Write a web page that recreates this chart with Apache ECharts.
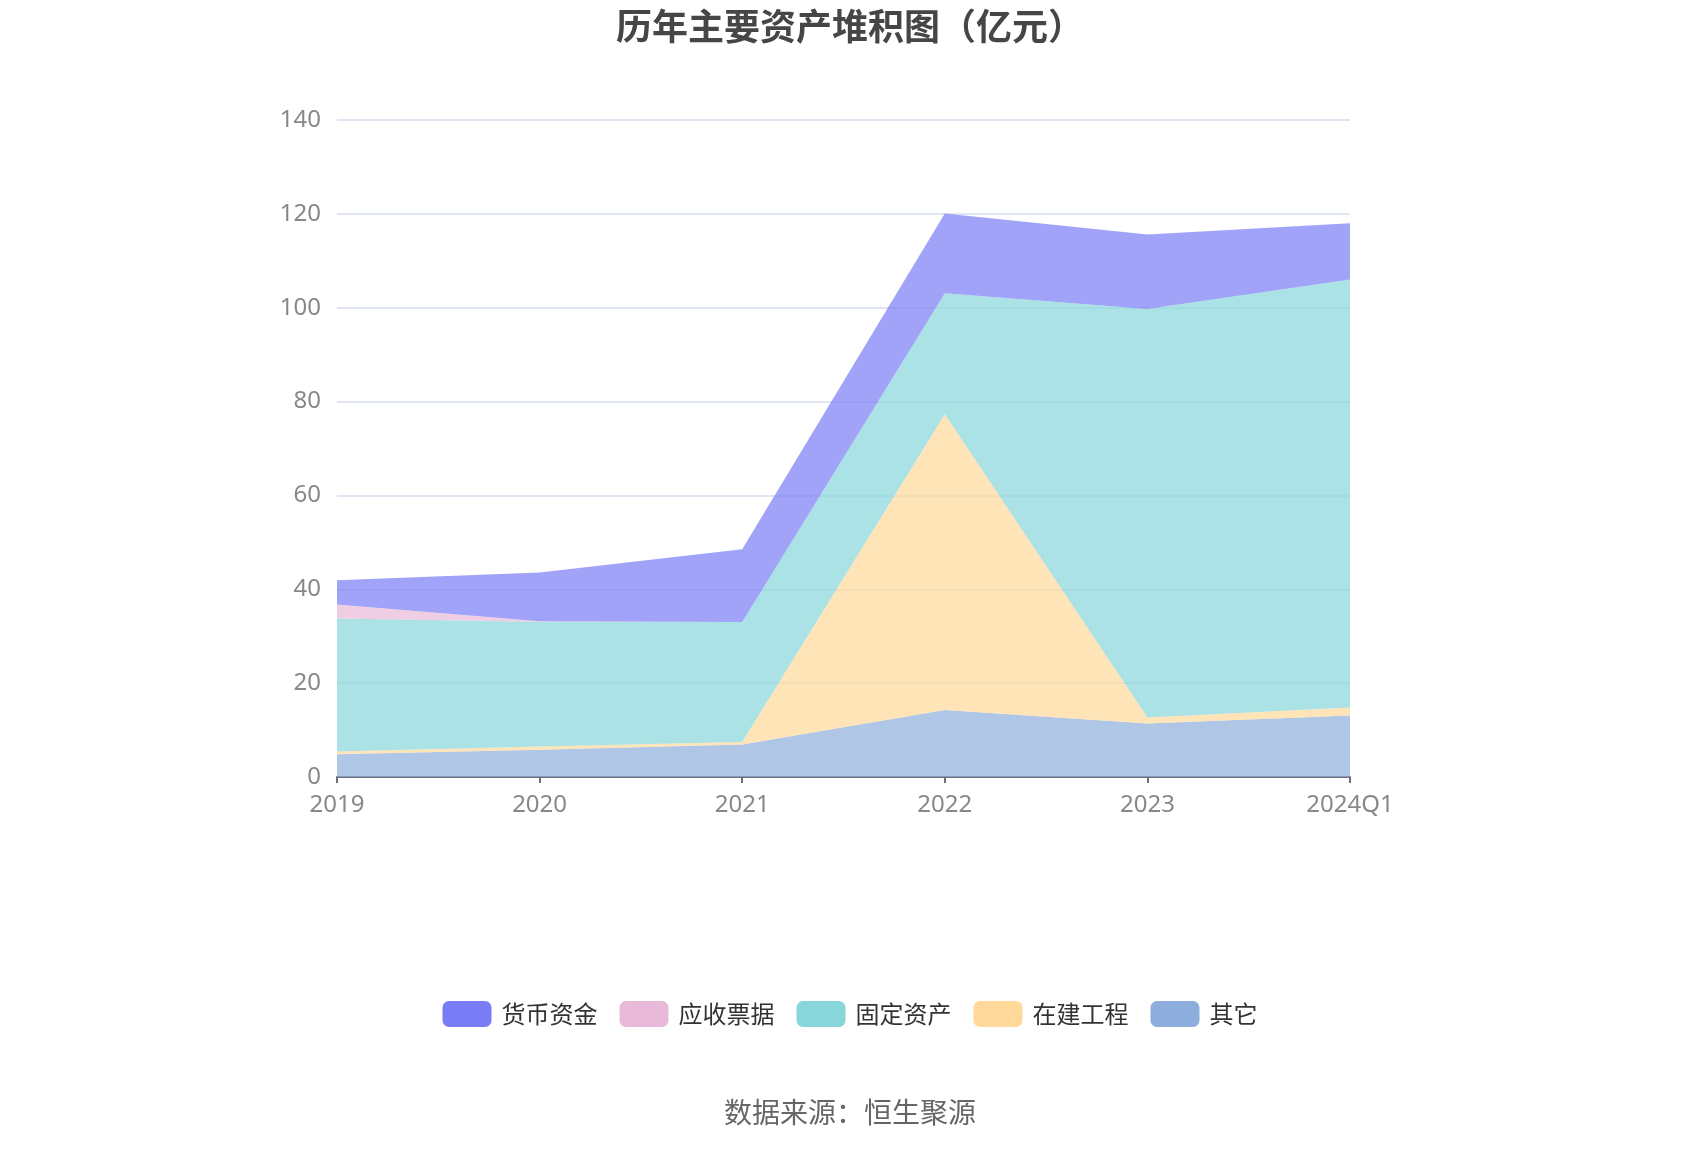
<!DOCTYPE html>
<html><head><meta charset="utf-8">
<script src="https://cdn.jsdelivr.net/npm/echarts@6/dist/echarts.min.js"></script>
<style>html,body{margin:0;padding:0;background:#fff}#c{width:1700px;height:1150px}</style>
</head><body><div id="c"></div>
<script>
const categories = ['2019','2020','2021','2022','2023','2024Q1'];
const huobi   = [5.2, 10.4, 15.5, 17.0, 15.9, 12.0];
const yingshou= [3.0, 0.1, 0, 0, 0, 0];
const guding  = [28.3, 26.6, 25.6, 25.8, 87.0, 91.2];
const zaijian = [0.6, 0.7, 0.55, 63.0, 1.3, 1.7];
const qita    = [4.85, 5.8, 6.9, 14.3, 11.4, 13.1];
const yTicks = [0, 20, 40, 60, 80, 100, 120, 140];

const colors = {'货币资金':'#787cf5','应收票据':'#e8b9d8','固定资产':'#88d6da','在建工程':'#ffd89a','其它':'#8daedc'};
function mk(name, data){
  return {name, type:'line', stack:'total', data, symbol:'none', smooth:false,
    itemStyle:{color:colors[name]}, lineStyle:{width:0}, areaStyle:{color:colors[name], opacity:0.7}};
}
const chart = echarts.init(document.getElementById('c'));
chart.setOption({
  animation:false,
  title:{text:'历年主要资产堆积图（亿元）', left:'center', top:3,
    textStyle:{fontSize:36, fontWeight:'bold', color:'#464646', fontFamily:'Noto Sans CJK SC'}},
  legend:{data:['货币资金','应收票据','固定资产','在建工程','其它'], bottom:118, left:'center',
    itemWidth:49, itemHeight:26, itemGap:22, icon:'roundRect',
    textStyle:{fontSize:24, color:'#333', fontFamily:'Noto Sans CJK SC', padding:[0,0,0,5]}},
  graphic:[{type:'text', left:'center', top:1098, style:{text:'数据来源：恒生聚源', fontSize:28, fill:'#666', fontFamily:'Noto Sans CJK SC'}}],
  grid:{left:337, right:350, top:120, bottom:373, containLabel:false},
  xAxis:{type:'category', data:categories, boundaryGap:false,
    axisLine:{lineStyle:{color:'#6e7079', width:2}},
    axisTick:{show:true, alignWithLabel:true, length:6, lineStyle:{color:'#6e7079', width:2}},
    axisLabel:{fontSize:24, color:'#888', margin:16, fontFamily:'Noto Sans'}},
  yAxis:{type:'value', min:yTicks[0], max:yTicks[yTicks.length-1], interval:20,
    axisLine:{show:false}, axisTick:{show:false},
    splitLine:{lineStyle:{color:'#e0e6f1', width:2}},
    axisLabel:{fontSize:24, color:'#888', margin:16, fontFamily:'Noto Sans'}},
  series:[mk('其它', qita), mk('在建工程', zaijian), mk('固定资产', guding), mk('应收票据', yingshou), mk('货币资金', huobi)]
});
</script></body></html>
